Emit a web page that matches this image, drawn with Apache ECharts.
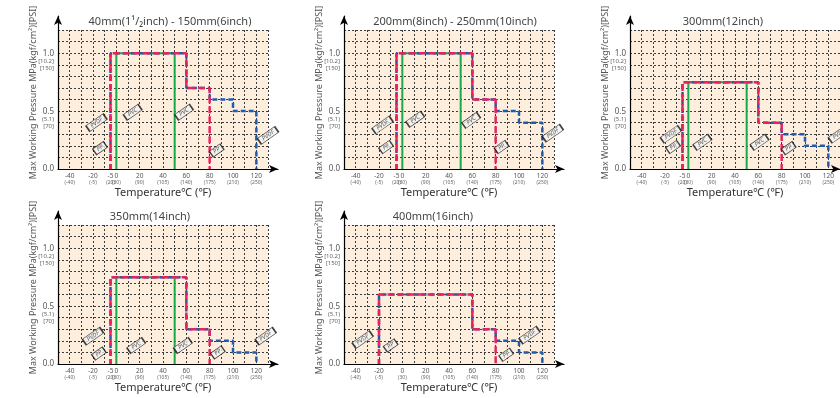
<!DOCTYPE html>
<html><head><meta charset="utf-8">
<script src="https://cdn.jsdelivr.net/npm/echarts@6/dist/echarts.min.js"></script>
<style>html,body{margin:0;padding:0;background:#fff}#c{width:840px;height:398px}</style>
</head><body><div id="c"></div>
<script>
// ---- tick labels ----
const tempTicksA = [-40, -20, -5, 0, 20, 40, 60, 80, 100, 120];
const tempTicksB = [-40, -20, 0, 20, 40, 60, 80, 100, 120];
const fahrenheitOf = {'-40':'-40','-20':'-5','-5':'20','0':'30','20':'90','40':'105','60':'140','80':'175','100':'210','120':'250'};
const pressTicks = [0, 0.5, 1.0];
const pressSubLabels = {'0.0': [], '0.5': ['(5.1)', '[70]'], '1.0': ['[10.2]', '[150]']};

// ---- titles ----
const titles = ['40mm(1¹/₂inch) - 150mm(6inch)', '200mm(8inch) - 250mm(10inch)', '300mm(12inch)', '350mm(14inch)', '400mm(16inch)'];

// ---- series: [temperature °C, pressure MPa] ----
const pp1   = [[-5,0],[-5,1.0],[60,1.0],[60,0.7],[80,0.7],[80,0]];
const pvdf1 = [[-5,0],[-5,1.0],[60,1.0],[60,0.7],[80,0.7],[80,0.6],[100,0.6],[100,0.5],[120,0.5],[120,0]];
const pvc1  = [[0,0],[0,1.0],[50,1.0],[50,0]];

const pp2   = [[-5,0],[-5,1.0],[60,1.0],[60,0.6],[80,0.6],[80,0]];
const pvdf2 = [[-5,0],[-5,1.0],[60,1.0],[60,0.6],[80,0.6],[80,0.5],[100,0.5],[100,0.4],[120,0.4],[120,0]];
const pvc2  = [[0,0],[0,1.0],[50,1.0],[50,0]];

const pp3   = [[-5,0],[-5,0.75],[60,0.75],[60,0.4],[80,0.4],[80,0]];
const pvdf3 = [[-5,0],[-5,0.75],[60,0.75],[60,0.4],[80,0.4],[80,0.3],[100,0.3],[100,0.2],[120,0.2],[120,0]];
const pvc3  = [[0,0],[0,0.75],[50,0.75],[50,0]];

const pp4   = [[-5,0],[-5,0.75],[60,0.75],[60,0.3],[80,0.3],[80,0]];
const pvdf4 = [[-5,0],[-5,0.75],[60,0.75],[60,0.3],[80,0.3],[80,0.2],[100,0.2],[100,0.1],[120,0.1],[120,0]];
const pvc4  = [[0,0],[0,0.75],[50,0.75],[50,0]];

const pp5   = [[-20,0],[-20,0.6],[60,0.6],[60,0.3],[80,0.3],[80,0]];
const pvdf5 = [[-20,0],[-20,0.6],[60,0.6],[60,0.3],[80,0.3],[80,0.2],[100,0.2],[100,0.1],[120,0.1],[120,0]];
const pvc5  = [];

// ---- tag anchors [material, temperature, pressure] ----
const tags1 = [['PVDF',-17,0.40],['PP',-14,0.18],['PVC',14,0.49],['PVC',58,0.49],['PP',86,0.16],['PVDF',130,0.29]];
const tags2 = [['PVDF',-17,0.38],['PP',-14,0.19],['PVC',11,0.43],['PVC',59,0.42],['PP',85,0.19],['PVDF',129,0.31]];
const tags3 = [['PVDF',-15,0.30],['PP',-13,0.19],['PVC',12,0.23],['PVC',61,0.23],['PP',86,0.18],['PVDF',129,0.30]];
const tags4 = [['PVDF',-20,0.24],['PP',-15,0.09],['PVC',17,0.16],['PVC',57,0.16],['PP',87,0.10],['PVDF',128,0.24]];
const tags5 = [['PVDF',-34,0.21],['PP',-10,0.16],['PP',89,0.08],['PVDF',109,0.25]];

const panelsData = [
  {title: titles[0], pp: pp1, pvdf: pvdf1, pvc: pvc1, tags: tags1, ticks: tempTicksA},
  {title: titles[1], pp: pp2, pvdf: pvdf2, pvc: pvc2, tags: tags2, ticks: tempTicksA},
  {title: titles[2], pp: pp3, pvdf: pvdf3, pvc: pvc3, tags: tags3, ticks: tempTicksA},
  {title: titles[3], pp: pp4, pvdf: pvdf4, pvc: pvc4, tags: tags4, ticks: tempTicksA},
  {title: titles[4], pp: pp5, pvdf: pvdf5, pvc: pvc5, tags: tags5, ticks: tempTicksB}
];

// ---- layout (pixels) ----
const layout = [
  {left: 58,  top: 30,  tx: 170, ty: 16},
  {left: 344, top: 30,  tx: 455, ty: 16},
  {left: 630, top: 30,  tx: 723, ty: 16},
  {left: 58,  top: 225, tx: 150, ty: 211},
  {left: 344, top: 225, tx: 433, ty: 211}
];
const W = 210, H = 139;
const FONT = 'Noto Sans, Roboto, sans-serif';
const C_PP = '#e6245c', C_PVDF = '#1f5bb0', C_PVC = '#1aa94b';

const option = {animation: false, backgroundColor: '#fff', title: [], grid: [], xAxis: [], yAxis: [], series: []};

panelsData.forEach((p, i) => {
  const L = layout[i];
  const g = i * 2, gb = i * 2 + 1;
  option.title.push({text: p.title, left: L.tx, top: L.ty, textAlign: 'center', padding: 0,
    textStyle: {fontSize: 11, fontWeight: 'normal', color: '#444', fontFamily: FONT}});
  option.grid.push({left: L.left, top: L.top, width: W, height: H, show: true, backgroundColor: '#fdeedd', borderWidth: 0});
  option.grid.push({left: L.left, top: L.top - 14, width: W + 10, height: H + 14, show: false});

  option.xAxis.push({
    type: 'value', gridIndex: g, min: -50, max: 130, interval: 10,
    axisLine: {show: false}, axisTick: {show: false},
    splitLine: {show: true, lineStyle: {color: '#3a3a3a', width: 1, type: [2, 2]}},
    axisLabel: {
      customValues: p.ticks, margin: 3, color: '#555', fontFamily: FONT,
      formatter: v => '{a|' + v + '}\n{b|(' + fahrenheitOf[String(v)] + ')}',
      rich: {a: {fontSize: 6.5, lineHeight: 8, color: '#555', fontFamily: FONT}, b: {fontSize: 5, lineHeight: 6, color: '#666', fontFamily: FONT}}
    },
    name: 'Temperature℃ (℉)', nameLocation: 'middle', nameGap: 18,
    nameTextStyle: {fontSize: 11, color: '#333', fontFamily: FONT}
  });
  option.yAxis.push({
    type: 'value', gridIndex: g, min: 0, max: 1.2, interval: 0.1,
    axisLine: {show: false}, axisTick: {show: false},
    splitLine: {show: true, lineStyle: {color: '#3a3a3a', width: 1, type: [2, 2]}},
    axisLabel: {
      customValues: pressTicks, margin: 4, fontFamily: FONT,
      formatter: v => {
        const k = Number(v).toFixed(1);
        const subs = pressSubLabels[k] || [];
        if (!subs.length) return '{a|' + k + '}';
        return '{p| }\n{p| }\n{a|' + k + '}\n{b|' + subs[0] + '}\n{b|' + subs[1] + '}';
      },
      rich: {a: {fontSize: 8, lineHeight: 8, color: '#555', fontFamily: FONT, align: 'right'},
             b: {fontSize: 6, lineHeight: 7, color: '#666', fontFamily: FONT, align: 'right'},
             p: {fontSize: 6, lineHeight: 7.5}}
    }
  });
  // arrow axes
  option.xAxis.push({type: 'value', gridIndex: gb, min: 0, max: 1,
    axisLine: {show: true, onZero: false, symbol: ['none', 'arrow'], symbolSize: [6, 9], lineStyle: {color: '#000', width: 1.2}},
    axisTick: {show: false}, axisLabel: {show: false}, splitLine: {show: false}});
  option.yAxis.push({type: 'value', gridIndex: gb, min: 0, max: 1,
    axisLine: {show: true, onZero: false, symbol: ['none', 'arrow'], symbolSize: [6, 9], lineStyle: {color: '#000', width: 1.2}},
    axisTick: {show: false}, axisLabel: {show: false}, splitLine: {show: false},
    name: 'Max Working Pressure MPa(kgf/cm²)[PSI]', nameLocation: 'middle', nameGap: 20,
    nameTextStyle: {fontSize: 9, color: '#555', fontFamily: FONT}});

  const base = {type: 'line', xAxisIndex: g, yAxisIndex: g, showSymbol: false, symbol: 'none', silent: true};
  if (p.pvc.length) option.series.push(Object.assign({}, base, {name: 'PVC', data: p.pvc, lineStyle: {color: C_PVC, width: 2}, z: 2}));
  option.series.push(Object.assign({}, base, {name: 'PVDF', data: p.pvdf, lineStyle: {color: C_PVDF, width: 2.5, type: [5, 3]}, z: 3}));
  option.series.push(Object.assign({}, base, {name: 'PP', data: p.pp, lineStyle: {color: C_PP, width: 2.5, type: [7, 3], dashOffset: 2}, z: 4}));
  option.series.push({
    type: 'scatter', xAxisIndex: g, yAxisIndex: g, z: 6, silent: true,
    data: p.tags.map(t => ({name: t[0], value: [t[1], t[2]]})),
    symbol: 'rect', symbolRotate: 35,
    symbolSize: (v, prm) => prm.name === 'PVDF' ? [21, 7] : prm.name === 'PVC' ? [18, 7] : [13, 7],
    itemStyle: {color: '#f2f2f2', borderColor: '#111', borderWidth: 1},
    label: {show: true, position: 'inside', formatter: '{b}', rotate: 35, fontSize: 6, fontStyle: 'italic', color: '#333', fontFamily: FONT}
  });
});

const chart = echarts.init(document.getElementById('c'), null, {renderer: 'canvas'});
chart.setOption(option);
</script></body></html>
